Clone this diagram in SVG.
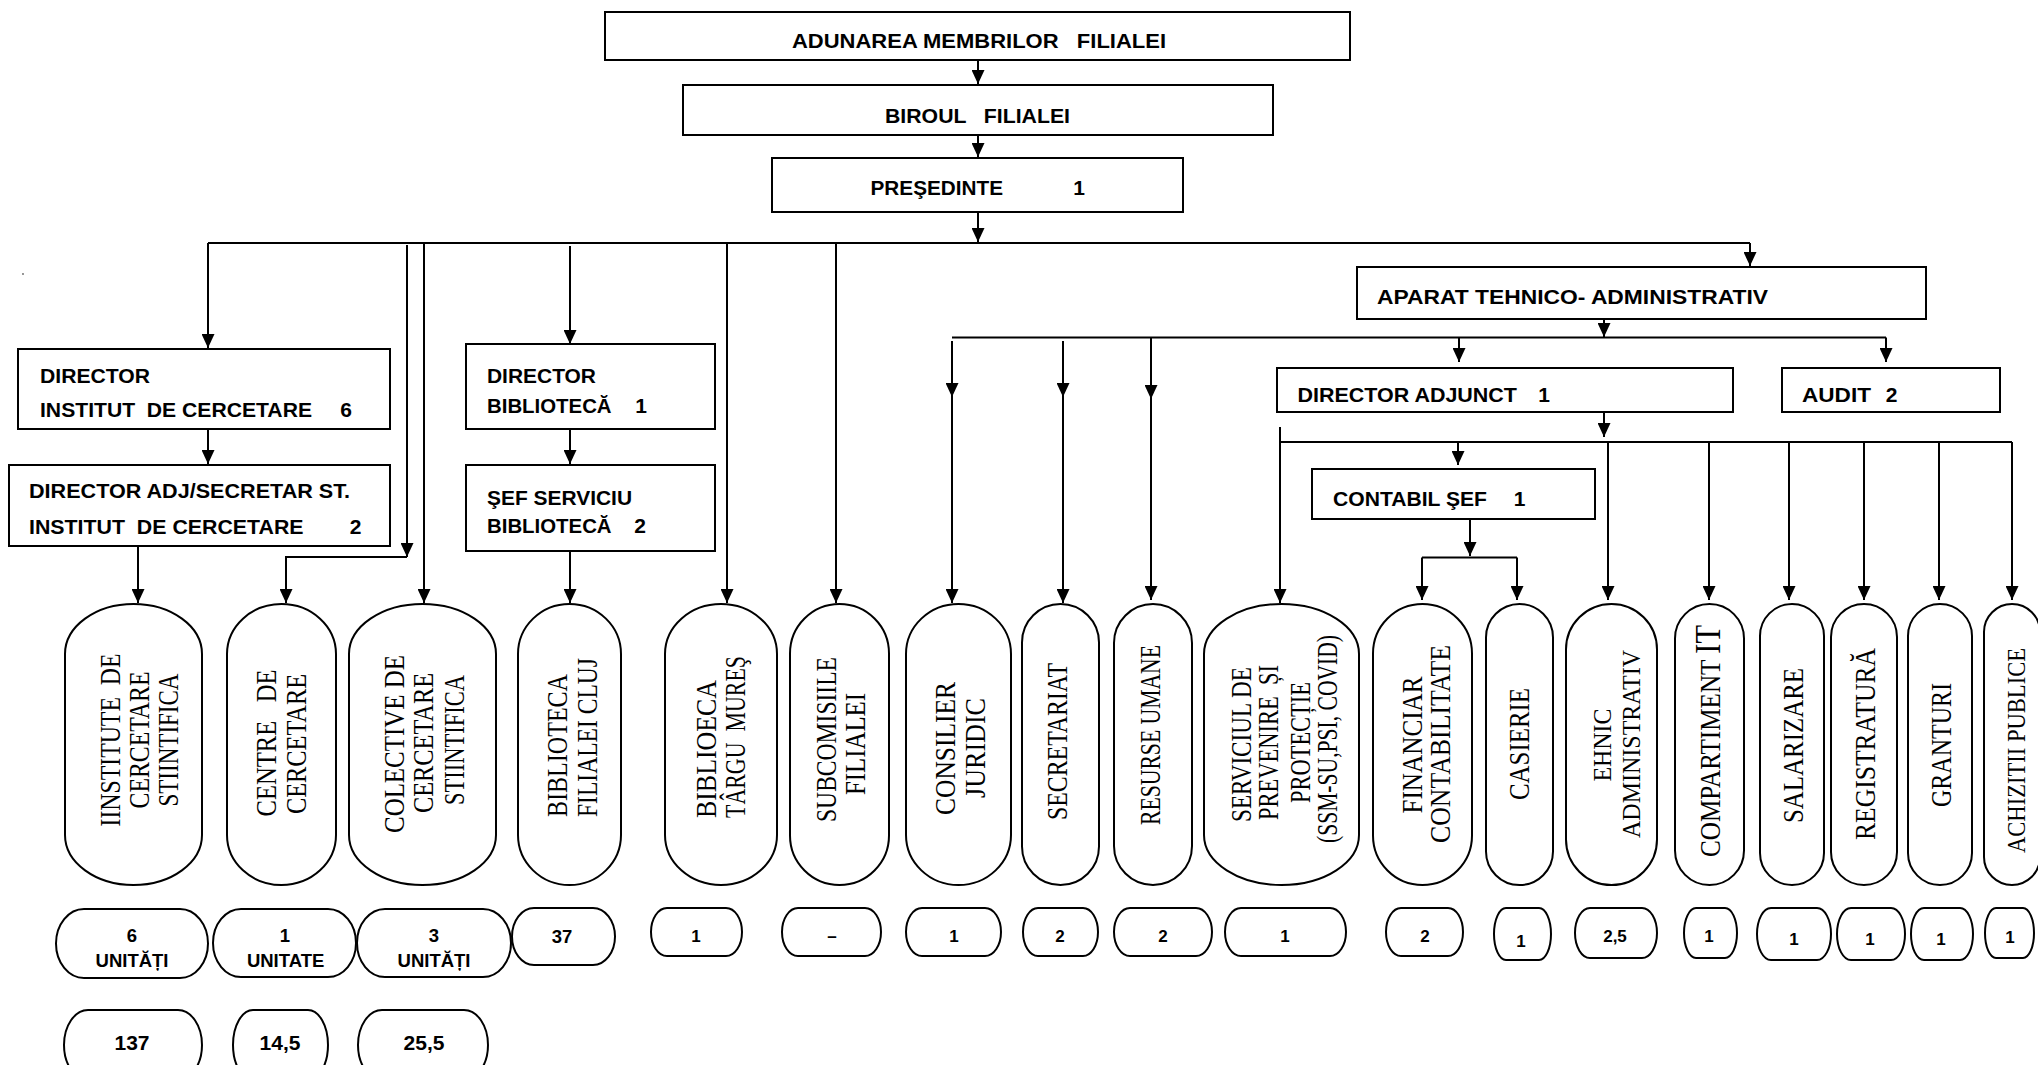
<svg xmlns="http://www.w3.org/2000/svg" width="2038" height="1065" viewBox="0 0 2038 1065">
<style>
.box{fill:#fff;stroke:#000;stroke-width:2}
.pill{fill:#fff;stroke:#000;stroke-width:2}
.hb{font-family:"Liberation Sans",Arial,sans-serif;font-weight:bold;font-size:21px;fill:#000}
.hm{font-family:"Liberation Sans",Arial,sans-serif;font-weight:bold;font-size:21px;fill:#000;text-anchor:middle}
.vt{font-family:"Liberation Serif","Times New Roman",serif;font-size:29px;fill:#000;text-anchor:middle}
.vs{font-family:"Liberation Serif","Times New Roman",serif;font-size:29px;fill:#000;text-anchor:start}
.num{font-family:"Liberation Sans",Arial,sans-serif;font-weight:bold;font-size:17px;fill:#000;text-anchor:middle}
.nb{font-size:18.5px}
.n2{font-size:21px}
.conn path{fill:none;stroke:#000;stroke-width:2}
</style>
<defs>
<marker id="ah" markerWidth="14" markerHeight="13" refX="14" refY="6.5" orient="auto" markerUnits="userSpaceOnUse"><path d="M0,0 L14,6.5 L0,13 z" fill="#000"/></marker>
</defs>
<rect width="2038" height="1065" fill="#fff"/>
<circle cx="23" cy="274" r="0.9" fill="#666"/>

<g id="connectors" class="conn">
<path d="M978,60 V84" marker-end="url(#ah)"/>
<path d="M978,135 V157" marker-end="url(#ah)"/>
<path d="M978,212 V242" marker-end="url(#ah)"/>
<path d="M208,243 H1750"/>
<path d="M1750,243 V266" marker-end="url(#ah)"/>
<path d="M208,243 V348" marker-end="url(#ah)"/>
<path d="M208,429 V464" marker-end="url(#ah)"/>
<path d="M138,546 V603" marker-end="url(#ah)"/>
<path d="M407,245 V557" marker-end="url(#ah)"/>
<path d="M407,557 H286 V603" marker-end="url(#ah)"/>
<path d="M424,243 V603" marker-end="url(#ah)"/>
<path d="M570,246 V344" marker-end="url(#ah)"/>
<path d="M570,429 V464" marker-end="url(#ah)"/>
<path d="M570,551 V603" marker-end="url(#ah)"/>
<path d="M727,243 V603" marker-end="url(#ah)"/>
<path d="M836,243 V603" marker-end="url(#ah)"/>
<path d="M1604,319 V337" marker-end="url(#ah)"/>
<path d="M952,337.5 H1886"/>
<path d="M952,341 V397" marker-end="url(#ah)"/>
<path d="M952,397 V603" marker-end="url(#ah)"/>
<path d="M1063,341 V397" marker-end="url(#ah)"/>
<path d="M1063,397 V603" marker-end="url(#ah)"/>
<path d="M1151,338 V399" marker-end="url(#ah)"/>
<path d="M1151,399 V600" marker-end="url(#ah)"/>
<path d="M1459,337.5 V362" marker-end="url(#ah)"/>
<path d="M1886,337.5 V362" marker-end="url(#ah)"/>
<path d="M1604,412 V437" marker-end="url(#ah)"/>
<path d="M1280,442 H2012"/>
<path d="M1280,427 V603" marker-end="url(#ah)"/>
<path d="M1458,442 V465" marker-end="url(#ah)"/>
<path d="M1470,519 V556" marker-end="url(#ah)"/>
<path d="M1422,557.5 H1517"/>
<path d="M1422,557.5 V600" marker-end="url(#ah)"/>
<path d="M1517,557.5 V600" marker-end="url(#ah)"/>
<path d="M1608,442 V600" marker-end="url(#ah)"/>
<path d="M1709,442 V600" marker-end="url(#ah)"/>
<path d="M1789,442 V600" marker-end="url(#ah)"/>
<path d="M1864,442 V600" marker-end="url(#ah)"/>
<path d="M1939,442 V600" marker-end="url(#ah)"/>
<path d="M2012,442 V600" marker-end="url(#ah)"/>
</g>

<g id="adunarea"><rect class="box" x="605" y="12" width="745" height="48"/><text class="hb" x="792" y="48" textLength="374" lengthAdjust="spacingAndGlyphs" xml:space="preserve">ADUNAREA MEMBRILOR   FILIALEI</text></g>
<g id="biroul"><rect class="box" x="683" y="85" width="590" height="50"/><text class="hb" x="885" y="123" textLength="185" lengthAdjust="spacingAndGlyphs" xml:space="preserve">BIROUL   FILIALEI</text></g>
<g id="presedinte"><rect class="box" x="772" y="158" width="411" height="54"/><text class="hb" x="870.5" y="195" textLength="132.5" lengthAdjust="spacingAndGlyphs">PREŞEDINTE</text><text class="hm" x="1079" y="195">1</text></g>
<g id="aparat"><rect class="box" x="1357" y="267" width="569" height="52"/><text class="hb" x="1377" y="304" textLength="391" lengthAdjust="spacingAndGlyphs">APARAT TEHNICO- ADMINISTRATIV</text></g>
<g id="director-adjunct"><rect class="box" x="1277" y="368" width="456" height="44"/><text class="hb" x="1297.5" y="402" textLength="219.5" lengthAdjust="spacingAndGlyphs">DIRECTOR ADJUNCT</text><text class="hm" x="1544" y="402">1</text></g>
<g id="audit"><rect class="box" x="1782" y="368" width="218" height="44"/><text class="hb" x="1802" y="402" textLength="69" lengthAdjust="spacingAndGlyphs">AUDIT</text><text class="hm" x="1891.5" y="402">2</text></g>
<g id="contabil-sef"><rect class="box" x="1312" y="469" width="283" height="50"/><text class="hb" x="1333" y="506" textLength="154" lengthAdjust="spacingAndGlyphs">CONTABIL ŞEF</text><text class="hm" x="1519.5" y="506">1</text></g>
<g id="director-institut"><rect class="box" x="18" y="349" width="372" height="80"/><text class="hb" x="40" y="383" textLength="110" lengthAdjust="spacingAndGlyphs">DIRECTOR</text><text class="hb" x="40" y="417" textLength="272" lengthAdjust="spacingAndGlyphs" xml:space="preserve">INSTITUT  DE CERCETARE</text><text class="hm" x="346" y="417">6</text></g>
<g id="director-adj-institut"><rect class="box" x="9" y="465" width="381" height="81"/><text class="hb" x="29" y="498" textLength="321" lengthAdjust="spacingAndGlyphs">DIRECTOR ADJ/SECRETAR ST.</text><text class="hb" x="29" y="534" textLength="274.6" lengthAdjust="spacingAndGlyphs" xml:space="preserve">INSTITUT  DE CERCETARE</text><text class="hm" x="355.5" y="534">2</text></g>
<g id="director-biblioteca"><rect class="box" x="466" y="344" width="249" height="85"/><text class="hb" x="487" y="383" textLength="109" lengthAdjust="spacingAndGlyphs">DIRECTOR</text><text class="hb" x="487" y="413" textLength="124.6" lengthAdjust="spacingAndGlyphs">BIBLIOTECĂ</text><text class="hm" x="641" y="413">1</text></g>
<g id="sef-serviciu"><rect class="box" x="466" y="465" width="249" height="86"/><text class="hb" x="487" y="505" textLength="145" lengthAdjust="spacingAndGlyphs">ŞEF SERVICIU</text><text class="hb" x="487" y="533" textLength="124.6" lengthAdjust="spacingAndGlyphs">BIBLIOTECĂ</text><text class="hm" x="640" y="533">2</text></g>

<g id="institute"><rect class="pill" x="65" y="604" width="137" height="281" rx="68.5" ry="50"/>
<text class="vt" transform="translate(119.5,740) rotate(-90)" textLength="173" lengthAdjust="spacingAndGlyphs" xml:space="preserve">IINSTITUTE  DE</text>
<text class="vt" transform="translate(148.5,740) rotate(-90)" textLength="137" lengthAdjust="spacingAndGlyphs">CERCETARE</text>
<text class="vt" transform="translate(177.5,740) rotate(-90)" textLength="133" lengthAdjust="spacingAndGlyphs">STIINTIFICA</text></g>
<g id="centre"><rect class="pill" x="227" y="604" width="109" height="281" rx="54.5" ry="50"/>
<text class="vt" transform="translate(276,743) rotate(-90)" textLength="147" lengthAdjust="spacingAndGlyphs" xml:space="preserve">CENTRE   DE</text>
<text class="vt" transform="translate(306,744) rotate(-90)" textLength="140" lengthAdjust="spacingAndGlyphs">CERCETARE</text></g>
<g id="colective"><rect class="pill" x="349" y="604" width="147" height="281" rx="73.5" ry="50"/>
<text class="vt" transform="translate(403.5,744) rotate(-90)" textLength="178" lengthAdjust="spacingAndGlyphs">COLECTIVE DE</text>
<text class="vt" transform="translate(433,743) rotate(-90)" textLength="140" lengthAdjust="spacingAndGlyphs">CERCETARE</text>
<text class="vt" transform="translate(464,740) rotate(-90)" textLength="130" lengthAdjust="spacingAndGlyphs">STIINTIFICA</text></g>
<g id="biblioteca-cluj"><rect class="pill" x="518" y="604" width="103" height="281" rx="51.5" ry="50"/>
<text class="vs" transform="translate(567,817) rotate(-90)" textLength="143" lengthAdjust="spacingAndGlyphs">BIBLIOTECA</text>
<text class="vs" transform="translate(596.5,817) rotate(-90)" textLength="159" lengthAdjust="spacingAndGlyphs">FILIALEI CLUJ</text></g>
<g id="biblioteca-targu-mures"><rect class="pill" x="665" y="604" width="112" height="281" rx="56" ry="50"/>
<text class="vs" transform="translate(715.5,818) rotate(-90)" textLength="138" lengthAdjust="spacingAndGlyphs">BIBLIOECA</text>
<text class="vs" transform="translate(745,818) rotate(-90)" textLength="162" lengthAdjust="spacingAndGlyphs" xml:space="preserve">TÂRGU  MUREŞ</text></g>
<g id="subcomisiile"><rect class="pill" x="790" y="604" width="99" height="281" rx="49.5" ry="49.5"/>
<text class="vt" transform="translate(836,739.5) rotate(-90)" textLength="165" lengthAdjust="spacingAndGlyphs">SUBCOMISIILE</text>
<text class="vt" transform="translate(865,744) rotate(-90)" textLength="102" lengthAdjust="spacingAndGlyphs">FILIALEI</text></g>
<g id="consilier-juridic"><rect class="pill" x="906" y="604" width="105" height="281" rx="52.5" ry="50"/>
<text class="vt" transform="translate(954.6,748.5) rotate(-90)" textLength="133" lengthAdjust="spacingAndGlyphs">CONSILIER</text>
<text class="vt" transform="translate(985,748) rotate(-90)" textLength="100" lengthAdjust="spacingAndGlyphs">JURIDIC</text></g>
<g id="secretariat"><rect class="pill" x="1022" y="604" width="77" height="281" rx="38.5" ry="38.5"/>
<text class="vt" transform="translate(1067,741.5) rotate(-90)" textLength="157" lengthAdjust="spacingAndGlyphs">SECRETARIAT</text></g>
<g id="resurse-umane"><rect class="pill" x="1114" y="604" width="78" height="281" rx="39" ry="39"/>
<text class="vt" transform="translate(1159.5,735) rotate(-90)" textLength="180" lengthAdjust="spacingAndGlyphs">RESURSE UMANE</text></g>
<g id="serviciul-prevenire"><rect class="pill" x="1204" y="604" width="155" height="281" rx="77.5" ry="50"/>
<text class="vt" transform="translate(1251,744.5) rotate(-90)" textLength="155" lengthAdjust="spacingAndGlyphs">SERVICIUL DE</text>
<text class="vt" transform="translate(1278,742.5) rotate(-90)" textLength="155" lengthAdjust="spacingAndGlyphs" xml:space="preserve">PREVENIRE  ȘI</text>
<text class="vt" transform="translate(1309.5,742.5) rotate(-90)" textLength="121" lengthAdjust="spacingAndGlyphs">PROTECȚIE</text>
<text class="vt" transform="translate(1337,739) rotate(-90)" textLength="208" lengthAdjust="spacingAndGlyphs">(SSM-SU,PSI, COVID)</text></g>
<g id="financiar-contabilitate"><rect class="pill" x="1373" y="604" width="99" height="281" rx="49.5" ry="49.5"/>
<text class="vt" transform="translate(1421.6,745) rotate(-90)" textLength="137" lengthAdjust="spacingAndGlyphs">FINANCIAR</text>
<text class="vt" transform="translate(1450,744) rotate(-90)" textLength="198" lengthAdjust="spacingAndGlyphs">CONTABILITATE</text></g>
<g id="casierie"><rect class="pill" x="1486" y="604" width="67" height="281" rx="33.5" ry="33.5"/>
<text class="vt" transform="translate(1529,744) rotate(-90)" textLength="112" lengthAdjust="spacingAndGlyphs">CASIERIE</text></g>
<g id="ehnic-administrativ"><rect class="pill" x="1566" y="604" width="91" height="281" rx="45.5" ry="45.5"/>
<text class="vt" style="font-size:26px" transform="translate(1610.5,745) rotate(-90)" textLength="73" lengthAdjust="spacingAndGlyphs">EHNIC</text>
<text class="vt" style="font-size:26px" transform="translate(1639.5,744) rotate(-90)" textLength="188" lengthAdjust="spacingAndGlyphs">ADMINISTRATIV</text></g>
<g id="compartiment-it"><rect class="pill" x="1675" y="604" width="69" height="281" rx="34.5" ry="34.5"/>
<text class="vt" transform="translate(1719.5,741) rotate(-90)" textLength="232" lengthAdjust="spacingAndGlyphs" xml:space="preserve">COMPARTIMENT <tspan style="font-size:35px">IT</tspan></text></g>
<g id="salarizare"><rect class="pill" x="1760" y="604" width="64" height="281" rx="32" ry="32"/>
<text class="vt" transform="translate(1803,745.5) rotate(-90)" textLength="155" lengthAdjust="spacingAndGlyphs">SALARIZARE</text></g>
<g id="registratura"><rect class="pill" x="1831" y="604" width="66" height="281" rx="33" ry="33"/>
<text class="vt" transform="translate(1875,744) rotate(-90)" textLength="192" lengthAdjust="spacingAndGlyphs">REGISTRATURĂ</text></g>
<g id="granturi"><rect class="pill" x="1908" y="604" width="64" height="281" rx="32" ry="32"/>
<text class="vt" transform="translate(1951,745) rotate(-90)" textLength="124" lengthAdjust="spacingAndGlyphs">GRANTURI</text></g>
<g id="achizitii-publice"><rect class="pill" x="1984" y="604" width="56" height="281" rx="28" ry="28"/>
<text class="vt" style="font-size:26px" transform="translate(2025,750.5) rotate(-90)" textLength="205" lengthAdjust="spacingAndGlyphs">ACHIZITII PUBLICE</text></g>

<g id="count-institute"><rect class="pill" x="56" y="909" width="152" height="69" rx="28" ry="34.5"/><text class="num nb" x="132" y="942">6</text><text class="num nb" x="132" y="967">UNITĂȚI</text></g>
<g id="count-centre"><rect class="pill" x="213" y="909" width="143" height="68" rx="28" ry="34"/><text class="num nb" x="285" y="942">1</text><text class="num nb" x="285.6" y="967">UNITATE</text></g>
<g id="count-colective"><rect class="pill" x="357" y="909" width="154" height="68" rx="28" ry="34"/><text class="num nb" x="434" y="942">3</text><text class="num nb" x="434" y="967">UNITĂȚI</text></g>
<g id="count-biblioteca-cluj"><rect class="pill" x="512" y="908" width="103" height="57" rx="22" ry="28.5"/><text class="num nb" x="562" y="943">37</text></g>
<g id="count-targu-mures"><rect class="pill" x="651" y="908" width="91" height="48" rx="16" ry="24"/><text class="num" x="696" y="942">1</text></g>
<g id="count-subcomisiile"><rect class="pill" x="782" y="908" width="99" height="48" rx="16" ry="24"/><text class="num" x="832" y="942">–</text></g>
<g id="count-consilier"><rect class="pill" x="906" y="908" width="95" height="48" rx="16" ry="24"/><text class="num" x="954" y="942">1</text></g>
<g id="count-secretariat"><rect class="pill" x="1023" y="908" width="75" height="48" rx="15" ry="24"/><text class="num" x="1060" y="942">2</text></g>
<g id="count-resurse"><rect class="pill" x="1114" y="908" width="98" height="48" rx="16" ry="24"/><text class="num" x="1163" y="942">2</text></g>
<g id="count-serviciul"><rect class="pill" x="1225" y="908" width="121" height="48" rx="16" ry="24"/><text class="num" x="1285" y="942">1</text></g>
<g id="count-financiar"><rect class="pill" x="1386" y="908" width="77" height="48" rx="15" ry="24"/><text class="num" x="1425" y="942">2</text></g>
<g id="count-casierie"><rect class="pill" x="1494" y="908" width="57" height="52" rx="12" ry="26"/><text class="num" x="1521" y="947">1</text></g>
<g id="count-ehnic"><rect class="pill" x="1575" y="908" width="82" height="50" rx="15" ry="25"/><text class="num" x="1615" y="942">2,5</text></g>
<g id="count-it"><rect class="pill" x="1684" y="908" width="53" height="50" rx="12" ry="25"/><text class="num" x="1709" y="942">1</text></g>
<g id="count-salarizare"><rect class="pill" x="1757" y="908" width="74" height="52" rx="14" ry="26"/><text class="num" x="1794" y="945">1</text></g>
<g id="count-registratura"><rect class="pill" x="1837" y="908" width="68" height="52" rx="14" ry="26"/><text class="num" x="1870" y="945">1</text></g>
<g id="count-granturi"><rect class="pill" x="1911" y="908" width="62" height="52" rx="13" ry="26"/><text class="num" x="1941" y="945">1</text></g>
<g id="count-achizitii"><rect class="pill" x="1985" y="908" width="49" height="50" rx="11" ry="25"/><text class="num" x="2010" y="943">1</text></g>

<g id="total-institute"><rect class="pill" x="64" y="1010" width="138" height="70" rx="24" ry="35"/><text class="num n2" x="132" y="1050">137</text></g>
<g id="total-centre"><rect class="pill" x="233" y="1010" width="95" height="70" rx="20" ry="35"/><text class="num n2" x="280" y="1050">14,5</text></g>
<g id="total-colective"><rect class="pill" x="358" y="1010" width="130" height="70" rx="24" ry="35"/><text class="num n2" x="424" y="1050">25,5</text></g>
</svg>
